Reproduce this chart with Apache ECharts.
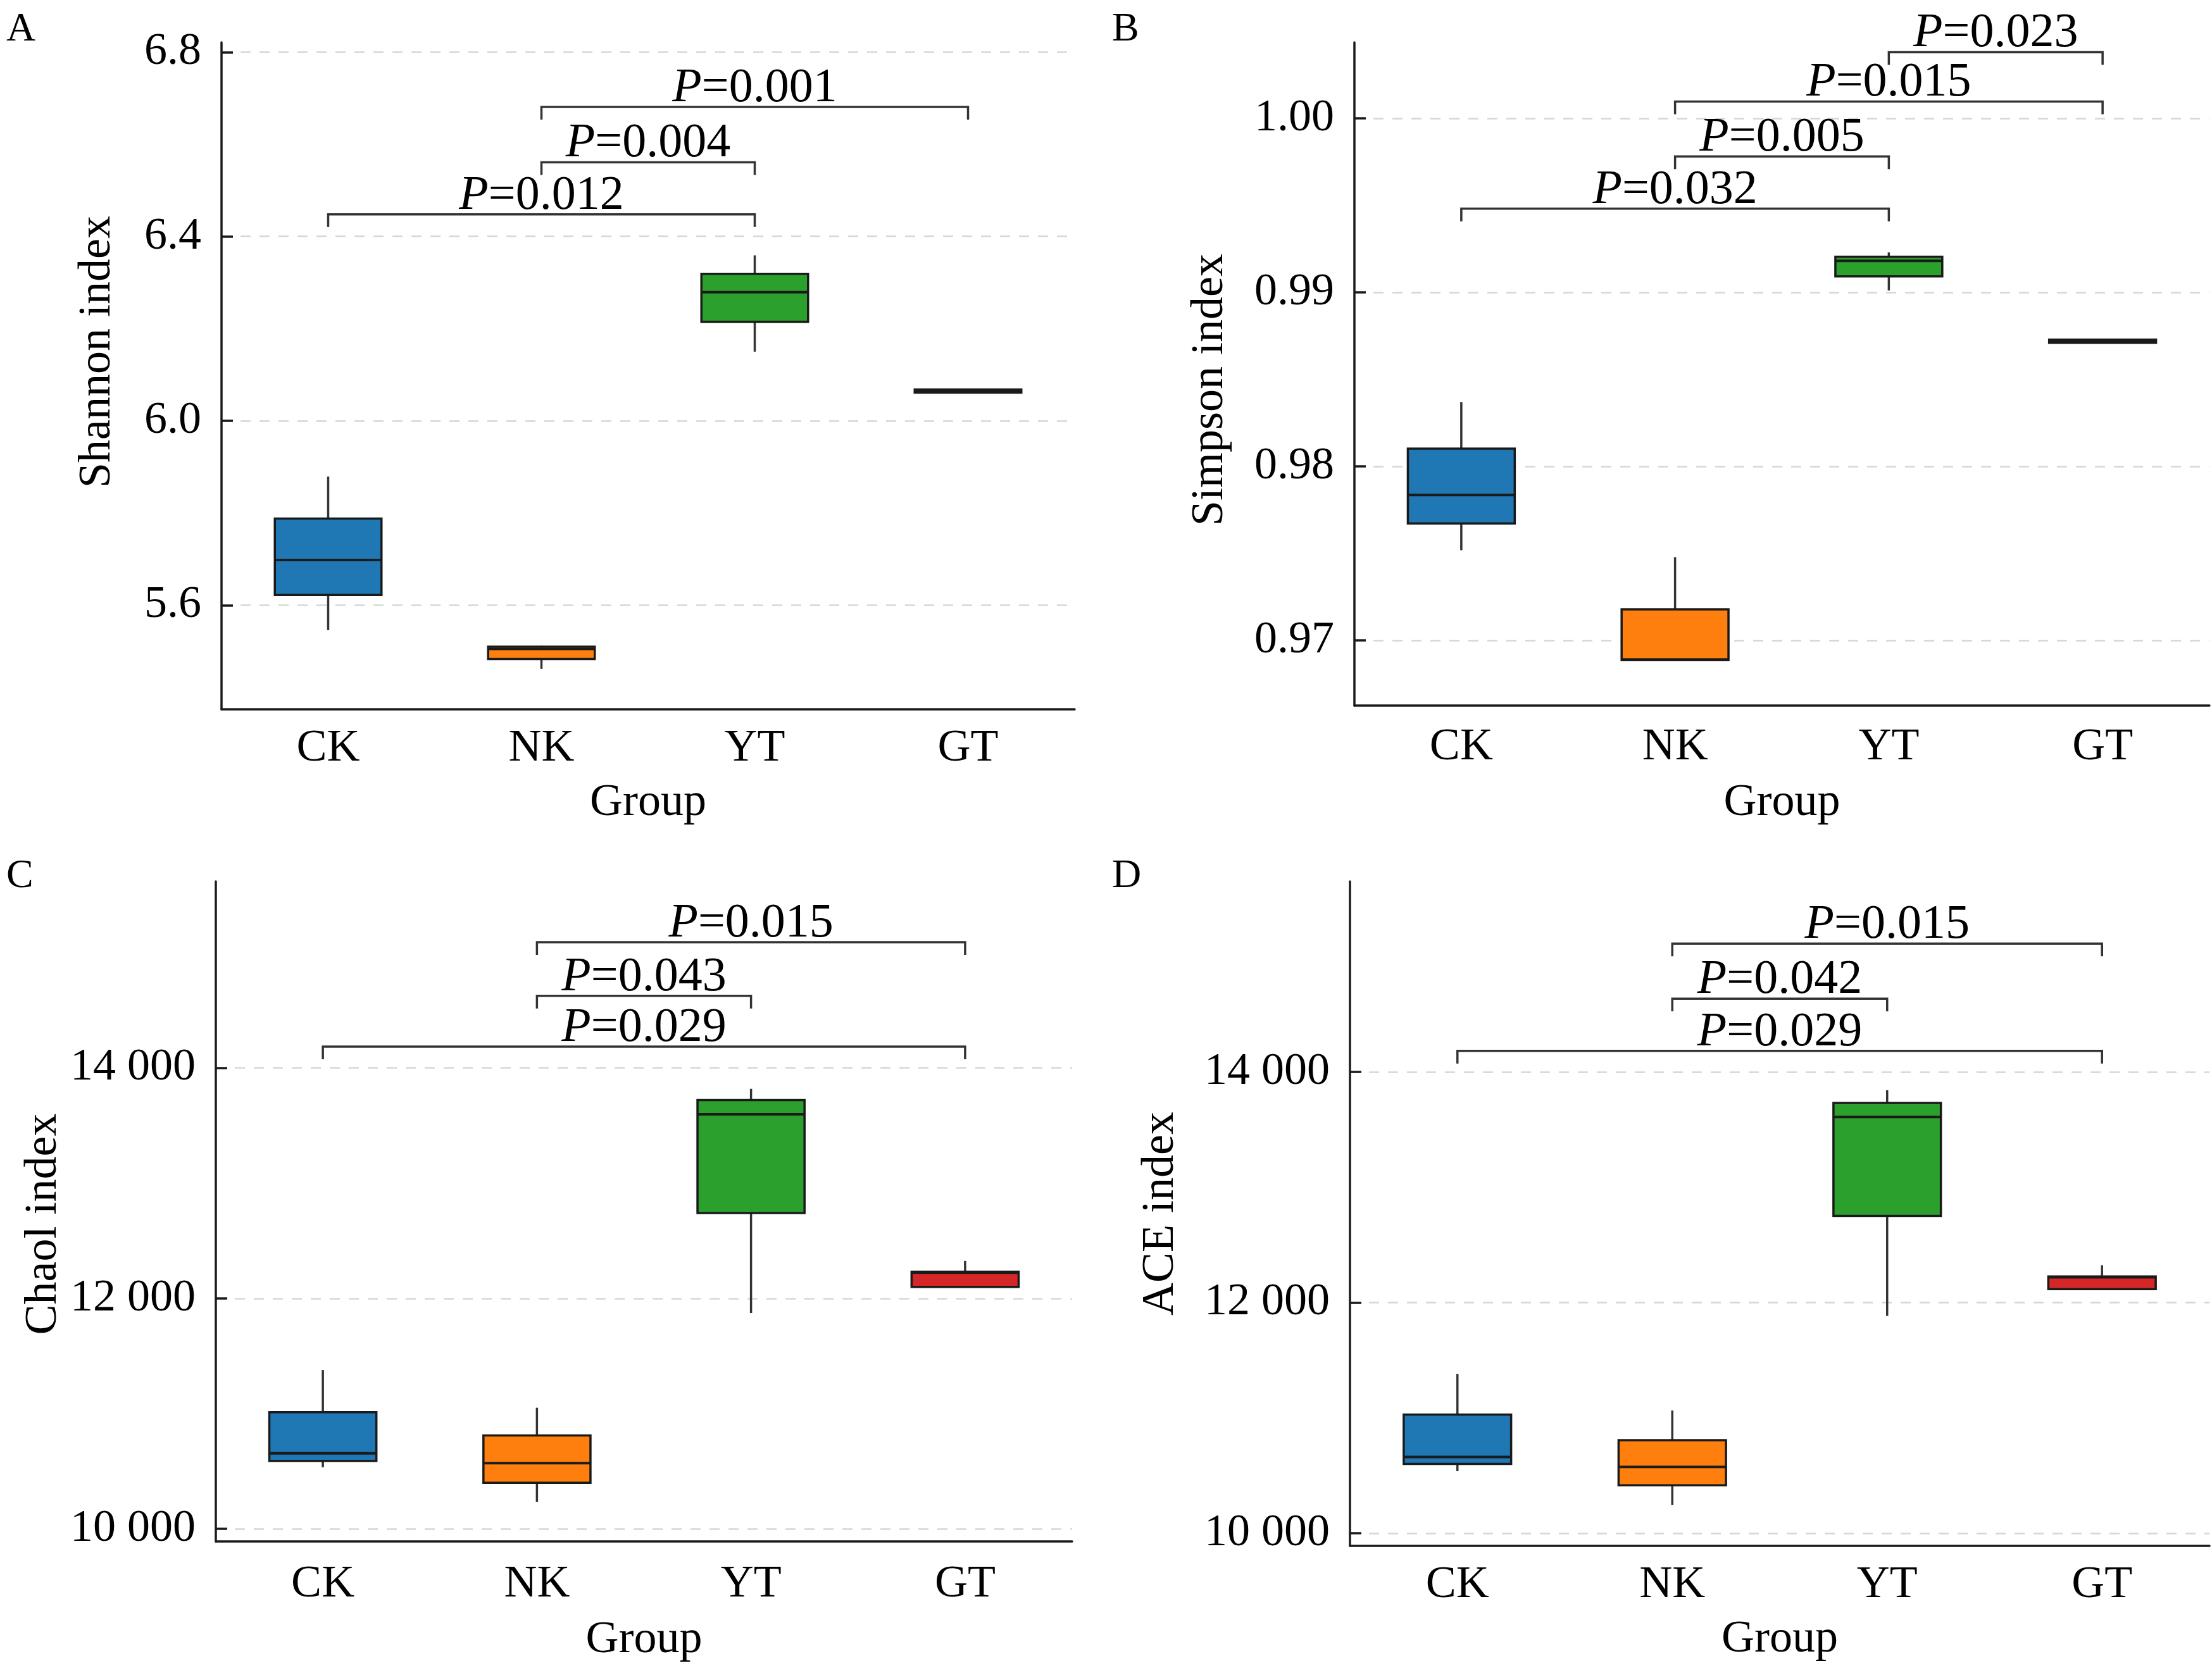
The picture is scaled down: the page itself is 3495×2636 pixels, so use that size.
<!DOCTYPE html>
<html>
<head>
<meta charset="UTF-8">
<title>Alpha diversity</title>
<script src="https://cdn.jsdelivr.net/npm/echarts@6/dist/echarts.min.js"></script>
<style>
  html, body { margin: 0; padding: 0; background: #fff; }
  #main { width: 3495px; height: 2636px; }
</style>
</head>
<body>
<div id="main"></div>
<script>
// groups on the x axis
var groups = ['CK', 'NK', 'YT', 'GT'];
var boxColors = ['#1f77b4', '#ff7f0e', '#2ca02c', '#d62728'];

// box stats per group: [lower whisker, Q1, median, Q3, upper whisker]
var shannonStats = [
  [5.546, 5.622, 5.698, 5.788, 5.879],
  [5.462, 5.483, 5.505, 5.510, 5.512],
  [6.150, 6.215, 6.279, 6.319, 6.359],
  [6.061, 6.061, 6.0645, 6.068, 6.068]
];
var simpsonStats = [
  [0.97518, 0.97672, 0.97835, 0.98102, 0.98370],
  [0.96886, 0.96886, 0.96890, 0.97178, 0.97478],
  [0.99011, 0.99092, 0.99181, 0.99205, 0.99230],
  [0.98710, 0.98710, 0.98719, 0.98728, 0.98728]
];
var chaoStats = [
  [10535, 10590, 10655, 11012, 11378],
  [10233, 10400, 10570, 10811, 11051],
  [11872, 12740, 13596, 13719, 13817],
  [12099, 12099, 12222, 12230, 12324]
];
var aceStats = [
  [10538, 10600, 10661, 11028, 11382],
  [10245, 10416, 10575, 10807, 11064],
  [11884, 12752, 13609, 13731, 13841],
  [12116, 12116, 12220, 12226, 12324]
];

// significance brackets: [from group, to group, bracket height]
var shannonPairs = [[0, 2, 6.448], [1, 2, 6.561], [1, 3, 6.681]];
var shannonP = ['0.012', '0.004', '0.001'];
var simpsonPairs = [[0, 2, 0.99481], [1, 2, 0.99781], [1, 3, 1.00097], [2, 3, 1.00381]];
var simpsonP = ['0.032', '0.005', '0.015', '0.023'];
var chaoPairs = [[0, 3, 14184], [1, 2, 14624], [1, 3, 15089]];
var chaoP = ['0.029', '0.043', '0.015'];
var acePairs = [[0, 3, 14183], [1, 2, 14636], [1, 3, 15113]];
var aceP = ['0.029', '0.042', '0.015'];

// y tick values
var shannonTicks = [5.6, 6.0, 6.4, 6.8];
var simpsonTicks = [0.97, 0.98, 0.99, 1.00];
var chaoTicks = [10000, 12000, 14000];
var aceTicks = [10000, 12000, 14000];

var FONT = '"Liberation Serif", "Times New Roman", serif';
var FS = 72;
var PFS = 76;
var INK = '#1a1a1a';

var chart = echarts.init(document.getElementById('main'));

function thousands(v) {
  return String(v).replace(/\B(?=(\d{3})+(?!\d))/g, ' ');
}

function renderBox(params, api) {
  var x = api.value(0);
  var lo = api.coord([x, api.value(1)]);
  var q1 = api.coord([x, api.value(2)]);
  var md = api.coord([x, api.value(3)]);
  var q3 = api.coord([x, api.value(4)]);
  var hi = api.coord([x, api.value(5)]);
  var bw = api.size([1, 0])[0] * 0.5;
  var cx = q1[0];
  var ws = {stroke: '#333', lineWidth: 3.5};
  return {
    type: 'group',
    children: [
      {type: 'line', shape: {x1: cx, y1: hi[1], x2: cx, y2: q3[1]}, style: ws},
      {type: 'line', shape: {x1: cx, y1: q1[1], x2: cx, y2: lo[1]}, style: ws},
      {type: 'rect', shape: {x: cx - bw / 2, y: q3[1], width: bw, height: q1[1] - q3[1]},
        style: {fill: boxColors[params.dataIndex], stroke: INK, lineWidth: 3.5}},
      {type: 'line', shape: {x1: cx - bw / 2, y1: md[1], x2: cx + bw / 2, y2: md[1]},
        style: {stroke: INK, lineWidth: 4}}
    ]
  };
}

function bracketRenderer(labels) {
  return function (params, api) {
    var a = api.coord([api.value(0), api.value(2)]);
    var b = api.coord([api.value(1), api.value(2)]);
    var drop = 20;
    return {
      type: 'group',
      children: [
        {type: 'polyline',
          shape: {points: [[a[0], a[1] + drop], [a[0], a[1]], [b[0], b[1]], [b[0], b[1] + drop]]},
          style: {stroke: '#333', lineWidth: 3.5, fill: 'none'}},
        {type: 'text',
          style: {
            text: '{i|P}=' + labels[params.dataIndex],
            x: (a[0] + b[0]) / 2, y: a[1] + 9,
            align: 'center', verticalAlign: 'bottom',
            fontSize: PFS, fontFamily: FONT, fill: '#000',
            rich: {i: {fontStyle: 'italic', fontSize: PFS, fontFamily: FONT, fill: '#000'}}
          }}
      ]
    };
  };
}

function boxData(stats) {
  return stats.map(function (s, i) { return [i].concat(s); });
}

var panels = [
  {name: 'Shannon index', stats: shannonStats, pairs: shannonPairs, p: shannonP, ticks: shannonTicks,
    min: 5.374, max: 6.821, fmt: function (v) { return v.toFixed(1); }, gap: 160, pad: [0, 0, 0, 76],
    lm: 26, ng: 112, grid: {left: 350, top: 67, width: 1348, height: 1054}},
  {name: 'Simpson index', stats: simpsonStats, pairs: simpsonPairs, p: simpsonP, ticks: simpsonTicks,
    min: 0.96625, max: 1.00437, fmt: function (v) { return v.toFixed(2); }, gap: 192, pad: [0, 50, 0, 0],
    lm: 30, ng: 118, grid: {left: 2140, top: 67, width: 1351, height: 1048}},
  {name: 'Chaol index', stats: chaoStats, pairs: chaoPairs, p: chaoP, ticks: chaoTicks,
    min: 9891, max: 15616, fmt: thousands, gap: 236, pad: [0, 40, 0, 0],
    lm: 32, ng: 120, grid: {left: 341, top: 1393, width: 1353, height: 1043}},
  {name: 'ACE index', stats: aceStats, pairs: acePairs, p: aceP, ticks: aceTicks,
    min: 9890, max: 15652, fmt: thousands, gap: 263, pad: [0, 0, 0, 0],
    lm: 26, ng: 112, grid: {left: 2133, top: 1393, width: 1358, height: 1050}}
];

var letters = [['A', 5, 10], ['B', 1752, 10], ['C', 5, 1348], ['D', 1752, 1348]];

var option = {
  backgroundColor: '#fff',
  animation: false,
  title: letters.map(function (l) {
    return {text: l[0], left: l[1], top: l[2],
      textStyle: {fontFamily: FONT, fontSize: 64, fontWeight: 'normal', color: '#000'}};
  }),
  grid: panels.map(function (p) { return p.grid; }),
  xAxis: panels.map(function (p, i) {
    return {
      type: 'category', gridIndex: i, data: groups, boundaryGap: true,
      name: 'Group', nameLocation: 'middle', nameGap: p.ng,
      nameTextStyle: {fontFamily: FONT, fontSize: FS, color: '#000'},
      axisLine: {lineStyle: {color: INK, width: 3.5}},
      axisTick: {alignWithLabel: true, inside: true, length: 18, lineStyle: {color: INK, width: 3.5}},
      axisLabel: {fontFamily: FONT, fontSize: FS, color: '#000', margin: p.lm},
      splitLine: {show: false}
    };
  }),
  yAxis: panels.map(function (p, i) {
    return {
      type: 'value', gridIndex: i, min: p.min, max: p.max,
      name: p.name, nameLocation: 'middle', nameGap: p.gap,
      nameTextStyle: {fontFamily: FONT, fontSize: FS, color: '#000', padding: p.pad},
      axisLine: {show: true, lineStyle: {color: INK, width: 3.5}},
      axisTick: {show: true, inside: true, length: 18, customValues: p.ticks,
        lineStyle: {color: INK, width: 3.5}},
      axisLabel: {customValues: p.ticks, formatter: p.fmt, fontFamily: FONT, fontSize: FS,
        color: '#000', margin: 32},
      splitLine: {show: true, lineStyle: {type: [16, 14], color: '#d6d6d6', width: 2.5}}
    };
  }),
  series: []
};

panels.forEach(function (p, i) {
  option.series.push({
    type: 'custom', xAxisIndex: i, yAxisIndex: i,
    data: boxData(p.stats),
    encode: {x: 0, y: [1, 2, 3, 4, 5]},
    renderItem: renderBox,
    z: 3
  });
  option.series.push({
    type: 'custom', xAxisIndex: i, yAxisIndex: i,
    data: p.pairs,
    encode: {x: [0, 1], y: 2},
    renderItem: bracketRenderer(p.p),
    clip: false,
    z: 4
  });
});

chart.setOption(option);
</script>
</body>
</html>
